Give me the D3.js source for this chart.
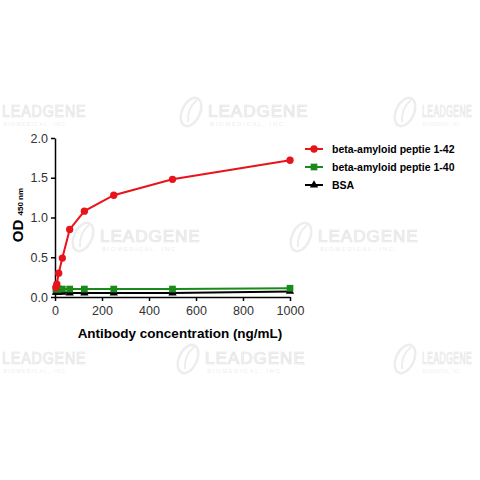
<!DOCTYPE html>
<html lang="en">
<head>
<meta charset="UTF-8">
<title>ELISA curve</title>
<script src="https://d3js.org/d3.v7.min.js"></script>
<style>
  body { margin: 0; background: #fff; }
  svg { font-family: Arial, "Liberation Sans", sans-serif; }
</style>
</head>
<body>
<svg width="480" height="480"></svg>
<script>
// antibody concentrations (ng/mL)
const conc = [1000, 500, 250, 125, 62.5, 31.25, 15.63, 7.81, 3.91];
const ab42 = [1.72, 1.48, 1.28, 1.08, 0.85, 0.49, 0.30, 0.16, 0.12];
const ab40 = [0.11, 0.10, 0.10, 0.10, 0.10, 0.10, 0.10, 0.10, 0.10];
const bsa  = [0.07, 0.05, 0.05, 0.05, 0.05, 0.06, 0.06, 0.06, 0.06];
const seriesNames = ["beta-amyloid peptie 1-42", "beta-amyloid peptie 1-40", "BSA"];
const xTicks = [0, 200, 400, 600, 800, 1000];
const yTicks = [0, 0.5, 1.0, 1.5, 2.0];

const svg = d3.select("svg");

// faint watermarks: [text start x, baseline y, horizontal squeeze]
const marks = [[2, 117, 0.84], [208, 117, 1], [422, 117, 0.5], [100, 242, 1], [318, 242, 1],
               [2, 364, 0.84], [205, 364, 1], [422, 364, 0.5]];
const wm = svg.append("g");
marks.forEach(([tx, ty, k]) => {
  const lx = tx - 17, ly = ty - 5;
  wm.append("ellipse").attr("cx", lx).attr("cy", ly).attr("rx", 9).attr("ry", 15)
    .attr("fill", "none").attr("stroke", "#ededed").attr("stroke-width", 2.5)
    .attr("transform", `rotate(25,${lx},${ly})`);
  wm.append("path").attr("d", `M${lx - 3},${ly + 10} Q${lx - 4},${ly - 4} ${lx + 6},${ly - 12}`)
    .attr("fill", "none").attr("stroke", "#ededed").attr("stroke-width", 2);
  const g = wm.append("g").attr("transform", `translate(${tx},${ty}) scale(${k},1)`);
  g.append("text").attr("font-size", 17).attr("fill", "#f6f6f6")
    .attr("stroke", "#e4e4e4").attr("stroke-width", 0.7)
    .attr("letter-spacing", 1).text("LEADGENE");
  g.append("text").attr("x", 2).attr("y", 9).attr("font-size", 6).attr("fill", "#eeeeee")
    .attr("letter-spacing", 1.6).text("BIOMEDICAL, INC.");
});

const x = d3.scaleLinear().domain([0, 1000]).range([55, 290]);
const y = d3.scaleLinear().domain([0, 2]).range([297, 138]);

// axes
const xAxis = svg.append("g").attr("transform", "translate(0,297)")
  .call(d3.axisBottom(x).tickValues(xTicks).tickFormat(d3.format("d")).tickSize(4).tickSizeOuter(0));
const yAxis = svg.append("g").attr("transform", "translate(55,0)")
  .call(d3.axisLeft(y).tickValues(yTicks).tickFormat(d3.format(".1f")).tickSize(4).tickSizeOuter(0));
[xAxis, yAxis].forEach(a => {
  a.select(".domain").attr("stroke", "#000").attr("stroke-width", 1.5);
  a.selectAll(".tick line").attr("stroke", "#000").attr("stroke-width", 1.5);
  a.selectAll("text").attr("font-size", 12.5).attr("fill", "#333").attr("font-family", "Arial, 'Liberation Sans', sans-serif");
});
xAxis.selectAll("text").attr("dy", "0.85em");

svg.append("text").attr("x", 180).attr("y", 338).attr("text-anchor", "middle")
  .attr("font-size", 13.5).attr("font-weight", "bold").text("Antibody concentration (ng/mL)");
const yt = svg.append("text").attr("transform", "translate(23,215) rotate(-90)")
  .attr("text-anchor", "middle").attr("font-weight", "bold");
yt.append("tspan").attr("font-size", 15).text("OD ");
yt.append("tspan").attr("font-size", 8).text("450 nm");

const series = [
  { name: seriesNames[0], vals: ab42, color: "#e8141b", shape: d3.symbolCircle, size: 42 },
  { name: seriesNames[1], vals: ab40, color: "#1a8a1a", shape: d3.symbolSquare, size: 45 },
  { name: seriesNames[2], vals: bsa, color: "#000000", shape: d3.symbolTriangle, size: 30 }
];

const line = d3.line().x(d => x(d[0])).y(d => y(d[1]));

// draw from back to front: BSA, 1-40, 1-42
series.slice().reverse().forEach(s => {
  const pts = conc.map((c, i) => [c, s.vals[i]]);
  svg.append("path").datum(pts).attr("d", line)
    .attr("fill", "none").attr("stroke", s.color).attr("stroke-width", 2);
  svg.append("g").selectAll("path").data(pts).join("path")
    .attr("transform", d => `translate(${x(d[0])},${y(d[1])})`)
    .attr("d", d3.symbol().type(s.shape).size(s.size))
    .attr("fill", s.color);
});

// legend
const legend = svg.append("g");
series.forEach((s, i) => {
  const ly = 149 + i * 18;
  legend.append("line").attr("x1", 305).attr("x2", 323).attr("y1", ly).attr("y2", ly)
    .attr("stroke", s.color).attr("stroke-width", 2);
  legend.append("path").attr("transform", `translate(314,${ly})`)
    .attr("d", d3.symbol().type(s.shape).size(s.size)).attr("fill", s.color);
  legend.append("text").attr("x", 332).attr("y", ly + 4).attr("font-size", 10.5)
    .attr("font-weight", "bold").text(s.name);
});
</script>
</body>
</html>
